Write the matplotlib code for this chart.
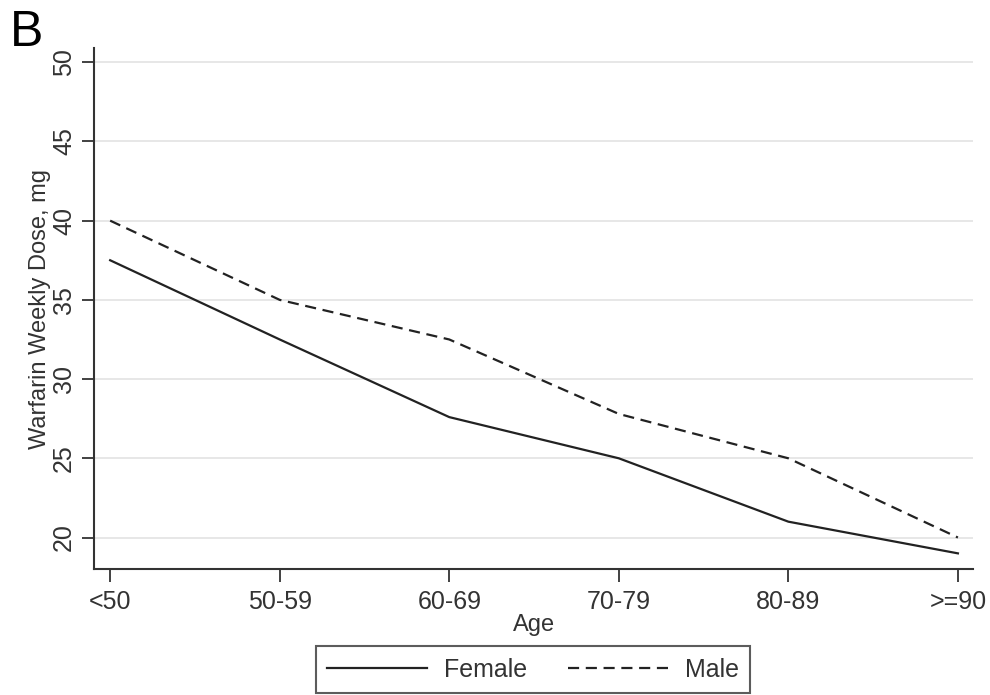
import matplotlib
matplotlib.use('Agg')
import matplotlib.pyplot as plt

# ------------------------------------------------------------------
# data
# ------------------------------------------------------------------
age_groups = ['<50', '50-59', '60-69', '70-79', '80-89', '>=90']
female_dose = [37.5, 32.5, 27.6, 25.0, 21.0, 19.0]
male_dose = [40.0, 35.0, 32.5, 27.8, 25.0, 20.0]
y_ticks = [20, 25, 30, 35, 40, 45, 50]

plt.rcParams['font.family'] = ['Liberation Sans', 'DejaVu Sans']

fig = plt.figure(figsize=(9.9, 6.95), dpi=100)
ax = fig.add_axes([0.095, 0.181, 0.888, 0.750])

x = list(range(len(age_groups)))
ax.plot(x, female_dose, color='#222222', linewidth=1.6, linestyle='-', label='Female')
ax.plot(x, male_dose, color='#222222', linewidth=1.6, linestyle=(0, (5, 3)), label='Male')

ax.set_xlim(-0.095, 5.09)
ax.set_ylim(18.0, 50.9)
ax.set_xticks(x)
ax.set_xticklabels(age_groups)
ax.set_yticks(y_ticks)
ax.set_yticklabels([str(v) for v in y_ticks], rotation=90, va='center')

ax.grid(axis='y', color='#e3e3e3', linewidth=1.2)
ax.set_axisbelow(True)
for side in ['top', 'right']:
    ax.spines[side].set_visible(False)
for side in ['left', 'bottom']:
    ax.spines[side].set_color('#333333')
    ax.spines[side].set_linewidth(1.5)

ax.tick_params(axis='both', direction='out', length=9, width=1.3,
               color='#333333', labelsize=18, labelcolor='#333333')
ax.tick_params(axis='x', pad=6)
ax.tick_params(axis='y', pad=4)

ax.set_xlabel('Age', fontsize=17, color='#333333', labelpad=0)
ax.set_ylabel('Warfarin Weekly Dose, mg', fontsize=17, color='#333333', labelpad=1)

fig.text(0.010, 0.985, 'B', fontsize=36, va='top', ha='left', color='black')

leg = fig.legend(loc='lower center', bbox_to_anchor=(533 / 990, 0.003), ncol=2,
                 fontsize=18, frameon=True, fancybox=False, handlelength=4.0,
                 columnspacing=1.6, borderpad=0.45, handletextpad=0.7,
                 borderaxespad=0)
leg.get_frame().set_edgecolor('#333333')
leg.get_frame().set_linewidth(1.5)
for t in leg.get_texts():
    t.set_color('#333333')

plt.savefig('out.png', dpi=100)
